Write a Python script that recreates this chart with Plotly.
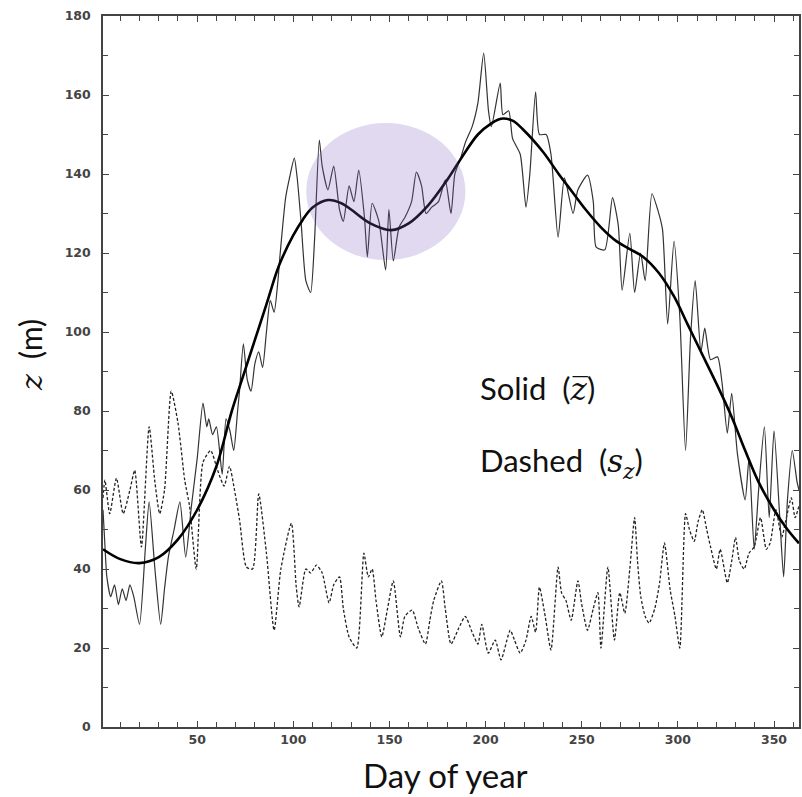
import plotly.graph_objects as go

# ---------------- data ----------------
noisy_days = [1, 2, 3, 5, 7, 9, 11, 13, 15, 17, 20, 23, 25, 28, 31, 33, 35, 38, 41, 44, 47, 50,
              53, 55, 56, 58, 60, 63, 65, 67, 69, 71, 72, 74, 76, 78, 80, 82, 84, 86, 88, 90, 92,
              93, 96, 98, 100.5, 102, 104, 106.5, 109, 111, 113.5, 115, 118, 121, 124, 126, 129,
              131.5, 134, 137, 138.5, 141, 144.5, 148, 149.7, 152, 155, 158, 161.5, 164, 166.7,
              169, 172, 175.5, 179, 182, 184, 187, 189.5, 193, 196, 199, 201.5, 203, 207.6, 209,
              212, 214, 218, 221, 223, 226, 228, 231.5, 234, 237.7, 241, 245.5, 248, 253, 256,
              257.5, 262, 266, 269, 271, 275, 277.5, 280.6, 283, 286.5, 289.5, 292, 294.7, 298,
              301, 304, 306.6, 309, 312, 314, 317, 320.6, 323, 325.7, 328, 331, 335, 337, 339.7,
              342, 345, 347.5, 350, 353, 355, 357, 359.5, 362, 363]
noisy_vals = [55, 46, 38, 33, 36, 31, 35, 32, 36, 33, 26, 45, 57, 40, 26, 35, 43, 50, 57, 43, 56, 68,
              82, 76, 78, 74, 76, 64, 78, 75, 70, 80, 85, 97, 88, 85, 92, 95, 91, 100, 108, 105, 113,
              119, 134, 139, 144, 139, 128, 113, 110, 123, 148.6, 142, 136, 142, 131, 128, 137,
              133, 141, 129, 119, 132.6, 128, 115.7, 131, 118, 126.6, 129, 133, 140.5, 137,
              130, 131.6, 133, 138.5, 130, 140, 144, 148, 152, 158, 170.6, 156, 152, 163, 155,
              156, 149, 145, 131.6, 140, 160.8, 150, 150, 145, 124, 139, 130, 136, 139.7, 133,
              121.5, 120.8, 134, 127, 110.6, 125, 110, 120, 113, 135, 131, 126, 102, 123,
              104, 70, 98.7, 113, 95, 101, 93, 93.7, 87, 74.4, 84.5, 69, 57.5, 68, 45,
              60, 76, 53, 75, 53, 38, 57.5, 70, 62, 60]

smooth_days = [1, 10, 20, 30, 40, 50, 60, 68, 74, 80, 86, 92.7, 100, 105, 110, 118, 125, 130, 140,
               151, 160, 170, 180, 186, 196, 203, 208, 214, 220, 230, 238, 245, 252, 260, 268,
               275, 282, 290, 298, 305, 312, 320, 328, 335, 342, 350, 357, 363]
smooth_vals = [45, 42.5, 41.5, 43, 47.5, 55, 66, 80, 89, 98, 107, 117, 124.5, 128.5, 131.5, 133.4,
               132.6, 131, 127.5, 125.8, 127.5, 132, 138.5, 143, 150, 152.8, 154, 153.5, 151,
               145.5, 140, 135.5, 131, 126.5, 123, 121, 119, 115, 109, 102, 95, 87, 78.5, 70,
               62, 55, 50, 46.5]

dashed_days = [1, 2, 4.5, 8, 11.5, 15, 17.5, 21, 25, 28, 30.5, 33, 36.5, 40, 43.5, 46, 49.5, 53,
               57, 60.6, 64, 66.8, 69.4, 72, 75.6, 78.8, 82, 86, 90, 93.5, 99, 101.5, 103, 106.5,
               109, 112, 115, 118.6, 121, 124, 126, 129, 133, 136.7, 139, 141, 143, 146, 149, 152,
               155.7, 158, 161.8, 165, 168.7, 171, 173, 177, 179, 182, 186, 189.4, 193, 196, 198,
               201.4, 205, 208, 212.8, 215, 218, 221, 223.7, 226, 228, 231, 234, 237.7, 239.5,
               241.8, 244.5, 248, 250, 253, 256, 258.4, 260, 263.6, 267, 269.8, 272.4, 275,
               277.5, 279, 280.7, 283, 285, 288, 290.5, 293, 296, 298.5, 301, 304, 306, 308.5,
               310.5, 312.7, 315, 317, 320, 322, 325.7, 328, 330, 332, 334.5, 337, 339.7, 343,
               346, 348, 351, 354, 356, 359, 361, 363]
dashed_vals = [58, 62.5, 54, 63, 54, 60, 65, 45.6, 76, 62, 54, 60, 85, 77, 62.5, 56, 40, 67,
               70, 65, 61, 66, 60, 52.5, 40.5, 40, 59, 44, 24.5, 40, 51.6, 35.5, 30.4, 40,
               39, 41, 39, 31.4, 36, 38, 30, 22.8, 20, 44, 38, 40, 32, 22.8, 30, 37,
               22.8, 28, 29.6, 25, 21, 27, 32, 37, 30, 21, 25, 28, 24, 21, 26,
               18.7, 22, 17, 24.5, 22, 18.7, 22, 28, 24, 35.4, 28, 19.5, 40.5, 34,
               32, 27, 37, 31, 24.5, 30, 34, 20, 40.5, 22, 34, 28.8, 40,
               53, 42, 33, 28, 26.3, 30, 36.5, 46.6, 34.7, 28, 20, 54, 50, 47,
               52, 55, 50, 45.6, 40, 45, 36.5, 42, 48, 42, 40, 44, 45.6, 53,
               45, 46.6, 55, 48, 52, 58, 53, 56]

x_tick_vals = [50, 100, 150, 200, 250, 300, 350]
y_tick_vals = [0, 20, 40, 60, 80, 100, 120, 140, 160, 180]

ellipse_x = [106.7, 189.5]
ellipse_y = [118.2, 152.9]

# ---------------- figure ----------------
fig = go.Figure()
fig.add_trace(go.Scatter(x=dashed_days, y=dashed_vals, mode="lines",
                         line=dict(color="#222", width=1.3, dash="3px,2px", shape="spline", smoothing=0.6),
                         showlegend=False, hoverinfo="skip"))
fig.add_trace(go.Scatter(x=noisy_days, y=noisy_vals, mode="lines",
                         line=dict(color="#333", width=1.2, shape="spline", smoothing=0.6),
                         showlegend=False, hoverinfo="skip"))
fig.add_trace(go.Scatter(x=smooth_days, y=smooth_vals, mode="lines",
                         line=dict(color="#000", width=2.6, shape="spline", smoothing=1.0),
                         showlegend=False, hoverinfo="skip"))

fig.add_shape(type="circle", xref="x", yref="y",
              x0=ellipse_x[0], x1=ellipse_x[1], y0=ellipse_y[0], y1=ellipse_y[1],
              fillcolor="rgb(125,95,190)", opacity=0.24, line=dict(width=0), layer="above")

tickfont = dict(family="DejaVu Sans", size=12.5, color="#444", weight="bold")
fig.update_xaxes(range=[1, 363], tickvals=x_tick_vals, ticks="inside", ticklen=6, tickwidth=1.2,
                 tickcolor="#444", showline=True, linecolor="#444", linewidth=1.5,
                 mirror="ticks", showgrid=False, zeroline=False, tickfont=tickfont,
                 minor=dict(dtick=10, tick0=0, ticks="inside", ticklen=5, tickcolor="#444", tickwidth=1))
fig.update_yaxes(range=[0, 180], tickvals=y_tick_vals, ticks="inside", ticklen=6, tickwidth=1.2,
                 tickcolor="#444", showline=True, linecolor="#444", linewidth=1.5,
                 mirror="ticks", showgrid=False, zeroline=False, tickfont=tickfont,
                 ticklabelstandoff=8,
                 minor=dict(dtick=10, tick0=0, ticks="inside", ticklen=5, tickcolor="#444", tickwidth=1))

fig.add_annotation(xref="paper", yref="paper", x=0.492, y=-0.0675, xanchor="center", yanchor="middle",
                   text="Day of year", showarrow=False,
                   font=dict(family="Lato", size=33, color="#111"))
fig.add_annotation(xref="paper", yref="paper", x=-0.105, y=0.523, xanchor="center", yanchor="middle",
                   text="<span style='font-family:DejaVu Serif'><i>z</i></span>\u00a0\u00a0(m)", textangle=-90,
                   showarrow=False, font=dict(family="Lato", size=30, color="#111"))
fig.add_annotation(xref="x", yref="y", x=196.3, y=85.8, xanchor="left", yanchor="middle",
                   text="Solid\u00a0\u00a0(<span style='font-family:DejaVu Serif'><i>z\u0305</i></span>)",
                   showarrow=False, font=dict(family="Lato", size=31, color="#111"))
fig.add_annotation(xref="x", yref="y", x=196.3, y=67, xanchor="left", yanchor="middle",
                   text="Dashed\u00a0\u00a0(<span style='font-family:DejaVu Serif'><i>s</i><sub><i>z</i></sub></span>)",
                   showarrow=False, font=dict(family="Lato", size=31, color="#111"))

fig.update_layout(width=802, height=797, margin=dict(l=103, r=1, t=16, b=70),
                  paper_bgcolor="white", plot_bgcolor="white")

fig.write_html("out.html")
